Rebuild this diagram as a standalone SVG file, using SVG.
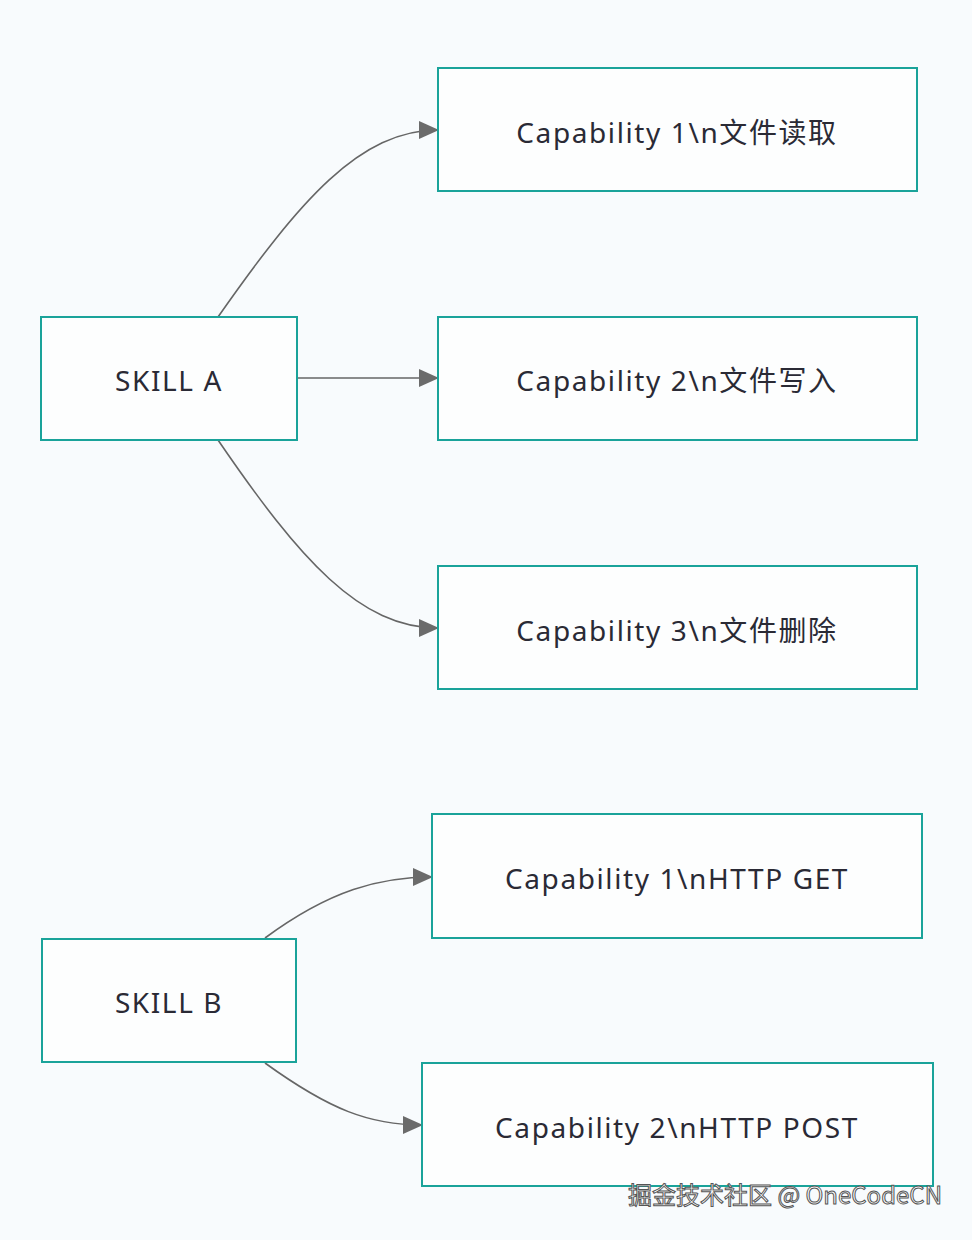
<svg xmlns="http://www.w3.org/2000/svg" width="972" height="1240" viewBox="0 0 972 1240">
<style>
.box{fill:#fdfefe;stroke:#1aa39a;stroke-width:2}
.lbl{font-family:"Noto Sans","Noto Sans CJK SC",sans-serif;font-size:28px;letter-spacing:1.6px;fill:#2a2a35;text-anchor:middle;dominant-baseline:central}
.edge{fill:none;stroke:#666;stroke-width:1.6}
.wm{font-family:"Noto Sans CJK SC","Noto Sans",sans-serif;font-size:24px;fill:#fff;stroke:#555;stroke-width:1;text-anchor:end}
</style>
<defs><marker id="ah" markerWidth="20" markerHeight="20" refX="19" refY="9" orient="auto" markerUnits="userSpaceOnUse" viewBox="0 0 20 18"><path d="M0,0L20,9L0,18z" fill="#6b6b6b"/></marker></defs>
<rect width="972" height="1240" fill="#f8fbfd"/>
<g id="connectors">
<path class="edge" marker-end="url(#ah)" d="M218,317C300,200 360,130 438,130"/>
<path class="edge" marker-end="url(#ah)" d="M297,378L438,378"/>
<path class="edge" marker-end="url(#ah)" d="M218,440C300,560 360,628 438,628"/>
<path class="edge" marker-end="url(#ah)" d="M265,938C330,890 380,877 432,877"/>
<path class="edge" marker-end="url(#ah)" d="M265,1063C330,1110 370,1125 422,1125"/>
</g>
<g id="skillA"><rect class="box" x="41" y="317" width="256" height="123"/><text class="lbl" x="169" y="380">SKILL A</text></g>
<g id="cap1"><rect class="box" x="438" y="68" width="479" height="123"/><text class="lbl" x="677" y="132">Capability 1\n文件读取</text></g>
<g id="cap2"><rect class="box" x="438" y="317" width="479" height="123"/><text class="lbl" x="677" y="380">Capability 2\n文件写入</text></g>
<g id="cap3"><rect class="box" x="438" y="566" width="479" height="123"/><text class="lbl" x="677" y="630">Capability 3\n文件删除</text></g>
<g id="skillB"><rect class="box" x="42" y="939" width="254" height="123"/><text class="lbl" x="169" y="1002">SKILL B</text></g>
<g id="capGet"><rect class="box" x="432" y="814" width="490" height="124"/><text class="lbl" x="677" y="878">Capability 1\nHTTP GET</text></g>
<g id="capPost"><rect class="box" x="422" y="1063" width="511" height="123"/><text class="lbl" x="677" y="1127">Capability 2\nHTTP POST</text></g>
<text class="wm" x="942" y="1204">掘金技术社区 @ OneCodeCN</text>
</svg>
